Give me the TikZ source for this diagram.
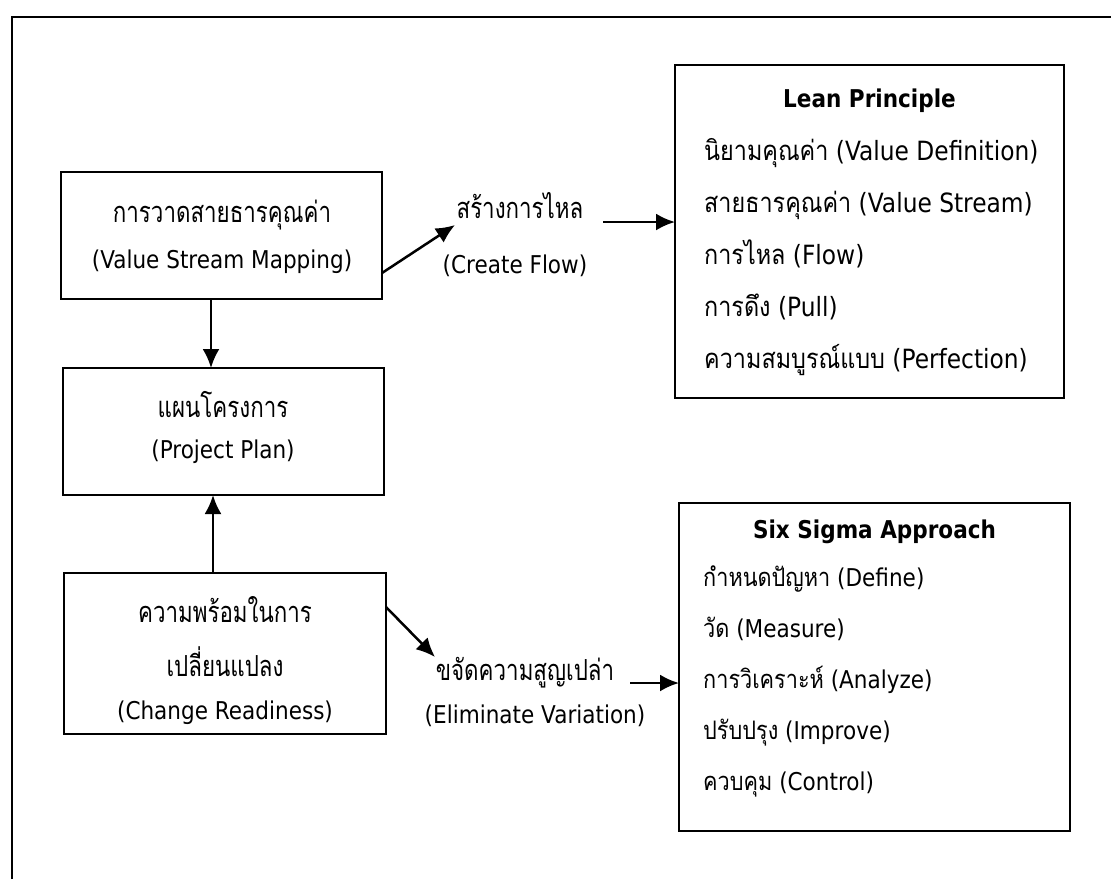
\documentclass[tikz,border=0pt]{standalone}
\usepackage{fontspec}
\setmainfont{DejaVu Sans}[FakeStretch=0.88]
\newfontfamily\thaifont[Script=Thai,FakeStretch=0.85]{Loma}
\newfontfamily\thaibox[Script=Thai,FakeStretch=0.77]{Loma}
\usetikzlibrary{arrows.meta}
\tikzset{
  box/.style={draw, line width=2pt, inner sep=0pt, outer sep=0pt},
  lat/.style={inner sep=0pt, anchor=base, font=\fontsize{24.5pt}{29pt}\selectfont},
  thl/.style={inner sep=0pt, anchor=base, font=\fontsize{29pt}{32pt}\selectfont\thaibox},
  ttl/.style={inner sep=0pt, anchor=base, font=\fontsize{24.5pt}{29pt}\selectfont\bfseries},
  itm/.style={inner sep=0pt, anchor=base west, font=\fontsize{24.5pt}{29pt}\selectfont},
  itmb/.style={inner sep=0pt, anchor=base west, font=\fontsize{26.5pt}{30pt}\selectfont},
  arr/.style={line width=2.5pt, -{Latex[length=19pt,width=17pt]}}
}
\newcommand{\thaitxt}[1]{{\thaifont\fontsize{25.5pt}{29pt}\selectfont #1}}
\newcommand{\thaitxtb}[1]{{\thaifont\fontsize{27.5pt}{30pt}\selectfont #1}}
\begin{document}
\begin{tikzpicture}[x=1pt,y=-1pt]
\useasboundingbox (0,0) rectangle (1111,879);
\fill[white] (0,0) rectangle (1111,879);
\draw[line width=2.4pt] (12,879) -- (12,17) -- (1111,17);

% boxes
\node[box, minimum width=321pt, minimum height=127pt] (vsm) at (221.5,235.5) {};
\node[box, minimum width=321pt, minimum height=127pt] (pp) at (223.5,431.5) {};
\node[box, minimum width=322pt, minimum height=161pt] (cr) at (225,653.5) {};
\node[box, minimum width=389pt, minimum height=333pt] (lean) at (869.5,231.5) {};
\node[box, minimum width=391pt, minimum height=328pt] (six) at (874.5,667) {};

% box texts
\node[thl] (vsm1) at (222,222) {การวาดสายธารคุณค่า};
\node[lat] (vsm2) at (222,268) {(Value Stream Mapping)};
\node[thl] (pp1) at (223,417) {แผนโครงการ};
\node[lat] (pp2) at (223,458) {(Project Plan)};
\node[thl] (cr1) at (225,622) {ความพร้อมในการ};
\node[thl] (cr2) at (225,676) {เปลี่ยนแปลง};
\node[lat] (cr3) at (225,719) {(Change Readiness)};

% middle labels
\node[thl] (flow1) at (520,218) {สร้างการไหล};
\node[lat] (flow2) at (515,273) {(Create Flow)};
\node[thl] (elim1) at (525,680) {ขจัดความสูญเปล่า};
\node[lat] (elim2) at (535,723) {(Eliminate Variation)};

% Lean list
\node[ttl] (leant) at (869.5,107) {Lean Principle};
\node[itmb] (lean1) at (704,160) {\thaitxtb{นิยามคุณค่า} (Value Definition)};
\node[itmb] (lean2) at (704,212) {\thaitxtb{สายธารคุณค่า} (Value Stream)};
\node[itmb] (lean3) at (704,264) {\thaitxtb{การไหล} (Flow)};
\node[itmb] (lean4) at (704,316) {\thaitxtb{การดึง} (Pull)};
\node[itmb] (lean5) at (704,368) {\thaitxtb{ความสมบูรณ์แบบ} (Perfection)};

% Six Sigma list
\node[ttl] (sixt) at (874.5,538) {Six Sigma Approach};
\node[itm] (six1) at (703,586) {\thaitxt{กำหนดปัญหา} (Define)};
\node[itm] (six2) at (703,637) {\thaitxt{วัด} (Measure)};
\node[itm] (six3) at (703,688) {\thaitxt{การวิเคราะห์} (Analyze)};
\node[itm] (six4) at (703,739) {\thaitxt{ปรับปรุง} (Improve)};
\node[itm] (six5) at (703,790) {\thaitxt{ควบคุม} (Control)};

% connectors
\draw[arr] ([xshift=-10.5pt]vsm.south) -- ([xshift=-12.5pt]pp.north);
\draw[arr] ([xshift=-12pt]cr.north) -- ([xshift=-10.5pt]pp.south);
\coordinate (flowtip) at (455,225);
\coordinate (flowtail) at (603,222);
\draw[arr] ([yshift=-37.5pt]vsm.east) -- (flowtip);
\draw[arr] (flowtail) -- (flowtail -| lean.west);
\coordinate (elimtip) at (435,657);
\coordinate (elimtail) at (630,683);
\draw[arr] ([yshift=46.5pt]cr.east) -- (elimtip);
\draw[arr] (elimtail) -- (elimtail -| six.west);
\end{tikzpicture}
\end{document}
